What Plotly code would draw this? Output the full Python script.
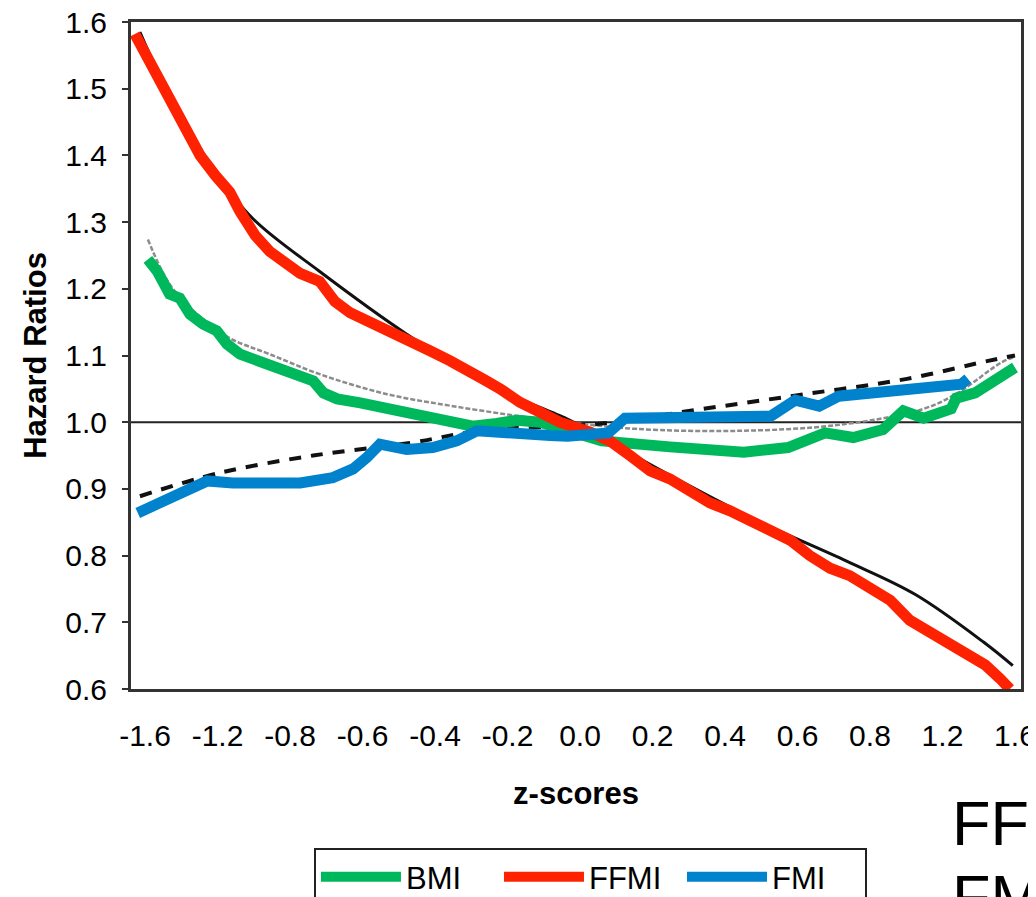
import plotly.graph_objects as go

# Category tick labels (equally spaced positions 0..12)
tick_labels = ["-1.6", "-1.2", "-0.8", "-0.6", "-0.4", "-0.2", "0.0",
               "0.2", "0.4", "0.6", "0.8", "1.2", "1.6"]
tick_pos = list(range(len(tick_labels)))

# BMI (green)
bmi_x = [0.04, 0.17, 0.34, 0.48, 0.62, 0.80, 0.99, 1.13, 1.31, 1.59, 1.96, 2.32, 2.46, 2.65,
         2.97, 3.34, 3.79, 4.25, 4.52, 4.85, 5.13, 5.45, 5.79, 6.30, 7.24, 8.26, 8.87, 9.38,
         9.77, 10.18, 10.46, 10.74, 11.12, 11.19, 11.45, 11.68, 11.86, 12.0]
bmi_y = [1.244, 1.226, 1.192, 1.186, 1.162, 1.147, 1.137, 1.117, 1.102, 1.092, 1.077, 1.062,
         1.044, 1.035, 1.029, 1.020, 1.013, 1.000, 0.994, 0.998, 1.003, 1.000, 0.990, 0.972,
         0.963, 0.955, 0.962, 0.984, 0.977, 0.989, 1.017, 1.006, 1.020, 1.036, 1.044, 1.060,
         1.076, 1.082]

# FFMI (red)
ffmi_x = [-0.14, 0.07, 0.21, 0.41, 0.55, 0.76, 0.97, 1.17, 1.31, 1.52, 1.72, 1.93, 2.14, 2.41,
          2.62, 2.83, 3.10, 3.38, 3.66, 3.93, 4.21, 4.48, 4.69, 4.90, 5.17, 5.45, 5.72, 6.14,
          6.41, 6.69, 6.97, 7.24, 7.52, 7.79, 8.07, 8.34, 8.62, 8.90, 9.17, 9.45, 9.72, 10.0,
          10.28, 10.55, 10.83, 11.10, 11.38, 11.59, 11.79, 11.93]
ffmi_y = [1.582, 1.540, 1.510, 1.470, 1.440, 1.400, 1.370, 1.345, 1.316, 1.280, 1.256, 1.238,
          1.223, 1.211, 1.181, 1.164, 1.149, 1.137, 1.122, 1.107, 1.092, 1.078, 1.063, 1.050,
          1.030, 1.015, 1.000, 0.985, 0.972, 0.950, 0.927, 0.915, 0.897, 0.879, 0.867, 0.853,
          0.838, 0.823, 0.800, 0.781, 0.770, 0.751, 0.733, 0.703, 0.685, 0.670, 0.651, 0.636,
          0.616, 0.600]

# FMI (blue)
fmi_x = [-0.10, 0.30, 0.58, 0.86, 1.21, 1.68, 2.14, 2.59, 2.87, 3.06, 3.24, 3.61, 3.97, 4.30,
         4.58, 5.59, 5.83, 6.39, 6.62, 8.63, 8.97, 9.30, 9.57, 11.26, 11.35]
fmi_y = [0.864, 0.883, 0.895, 0.912, 0.909, 0.908, 0.909, 0.917, 0.930, 0.947, 0.967, 0.959,
         0.962, 0.972, 0.987, 0.980, 0.979, 0.984, 1.006, 1.009, 1.033, 1.024, 1.039, 1.057,
         1.065]

# Fitted trend curves
ffmi_fit_x = [-0.07, 0.25, 0.94, 1.49, 2.41, 3.61, 4.72, 5.82, 6.08, 7.28, 8.47, 9.67, 10.62,
              11.57, 11.97]
ffmi_fit_y = [1.585, 1.510, 1.380, 1.305, 1.226, 1.132, 1.057, 1.005, 0.990, 0.918, 0.851,
              0.792, 0.742, 0.670, 0.635]

fmi_fit_x = [-0.07, 1.03, 2.32, 3.66, 4.62, 6.30, 7.70, 9.10, 10.51, 11.63, 12.0]
fmi_fit_y = [0.889, 0.924, 0.950, 0.969, 0.987, 0.998, 1.020, 1.042, 1.065, 1.092, 1.100]

bmi_fit_x = [0.04, 0.34, 0.72, 1.17, 1.72, 2.41, 3.34, 4.25, 5.17, 5.82, 6.77, 8.17, 9.57,
             10.74, 11.21, 11.82, 12.0]
bmi_fit_y = [1.274, 1.207, 1.162, 1.126, 1.102, 1.072, 1.042, 1.024, 1.009, 1.000, 0.990,
             0.987, 0.996, 1.020, 1.044, 1.090, 1.098]

FONT = "Arial, 'Liberation Sans', sans-serif"

fig = go.Figure()

# trend lines (beneath)
fig.add_trace(go.Scatter(x=bmi_fit_x, y=bmi_fit_y, mode="lines", showlegend=False,
                         line=dict(color="#8c8c8c", width=2.5, dash="5px,2px", shape="spline"),
                         hoverinfo="skip"))
fig.add_trace(go.Scatter(x=ffmi_fit_x, y=ffmi_fit_y, mode="lines", showlegend=False,
                         line=dict(color="#111111", width=3, shape="spline"),
                         hoverinfo="skip"))
fig.add_trace(go.Scatter(x=fmi_fit_x, y=fmi_fit_y, mode="lines", showlegend=False,
                         line=dict(color="#111111", width=4, dash="12px,10px", shape="spline"),
                         hoverinfo="skip"))

# data lines
fig.add_trace(go.Scatter(x=bmi_x, y=bmi_y, mode="lines", name="BMI",
                         line=dict(color="#00B85C", width=11)))
fig.add_trace(go.Scatter(x=ffmi_x, y=ffmi_y, mode="lines", name="FFMI",
                         line=dict(color="#FF2200", width=11)))
fig.add_trace(go.Scatter(x=fmi_x, y=fmi_y, mode="lines", name="FMI",
                         line=dict(color="#0082CC", width=11)))

fig.add_shape(type="line", xref="paper", x0=0, x1=1, yref="y", y0=1.0, y1=1.0,
              line=dict(color="#222222", width=2), layer="below")

# page body has an 8px default margin, so the figure is sized 8px smaller
fig.update_layout(
    width=1028, height=889,
    margin=dict(l=123, r=15, t=14, b=208, autoexpand=False),
    paper_bgcolor="white", plot_bgcolor="white",
    font=dict(family=FONT, color="black"),
    legend=dict(orientation="h", x=0.2056, xanchor="left", y=-0.2384, yanchor="top",
                bordercolor="#222222", borderwidth=2, font=dict(size=31, family=FONT),
                itemwidth=80, entrywidth=88, entrywidthmode="pixels",
                bgcolor="white"),
    annotations=[
        dict(text="FFMI", xref="paper", yref="paper", x=0.9205, y=-0.2005,
             xanchor="left", yanchor="middle", showarrow=False,
             font=dict(size=63, family=FONT, color="black")),
        dict(text="FMI", xref="paper", yref="paper", x=0.9205, y=-0.3125,
             xanchor="left", yanchor="middle", showarrow=False,
             font=dict(size=63, family=FONT, color="black")),
    ],
)

fig.update_xaxes(
    range=[-0.193, 12.083], tickmode="array", tickvals=tick_pos, ticktext=tick_labels,
    showgrid=False, zeroline=False, showline=True, linecolor="#333333", linewidth=3,
    mirror=True, ticks="", ticklabelstandoff=18, automargin=False,
    ticklabeloverflow="allow",
    tickfont=dict(size=30, family=FONT, color="black"),
    title=dict(text="<b>z-scores</b>", font=dict(size=31, family=FONT, color="black"),
               standoff=32),
)
fig.update_yaxes(
    range=[0.6, 1.6], tickmode="array", tickvals=[0.6, 0.7, 0.8, 0.9, 1.0, 1.1, 1.2, 1.3, 1.4, 1.5, 1.6],
    tickformat=".1f", showgrid=False, zeroline=False, showline=True,
    linecolor="#333333", linewidth=3, mirror=True, ticks="outside", ticklen=6,
    tickwidth=2, tickcolor="#333333", ticklabelstandoff=9, automargin=False,
    ticklabeloverflow="allow",
    tickfont=dict(size=30, family=FONT, color="black"),
    title=dict(text="<b>Hazard Ratios</b>", font=dict(size=31, family=FONT, color="black"),
               standoff=10),
)

fig.write_html("out.html")
